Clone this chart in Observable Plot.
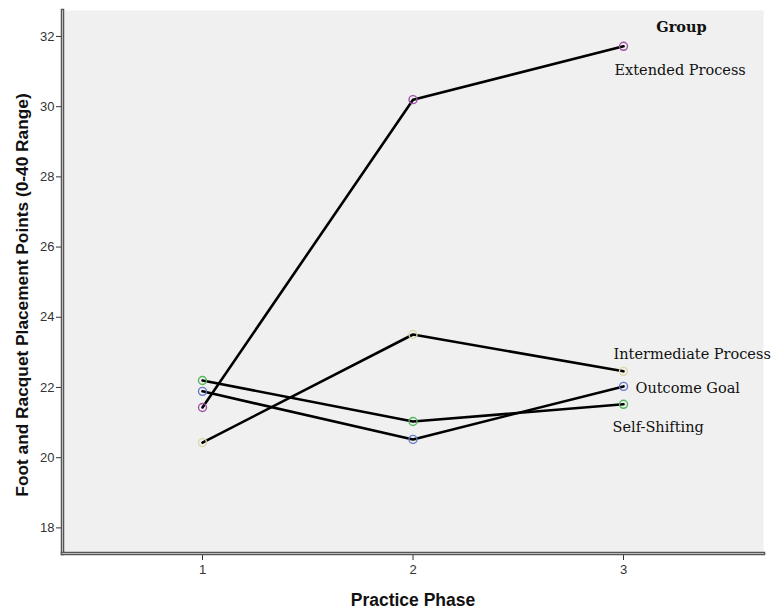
<!DOCTYPE html>
<html><head><meta charset="utf-8">
<script src="https://cdn.jsdelivr.net/npm/d3@7"></script>
<script src="https://cdn.jsdelivr.net/npm/@observablehq/plot@0.6"></script>
<style>body{margin:0;background:#fff}</style>
</head><body><div id="chart"></div>
<script>
const phases = [1, 2, 3];
const groups = ["Extended Process", "Intermediate Process", "Outcome Goal", "Self-Shifting"];
const extendedProcess = [21.43, 30.2, 31.72];
const intermediateProcess = [20.43, 23.51, 22.46];
const outcomeGoal = [21.89, 20.52, 22.03];
const selfShifting = [22.2, 21.03, 21.52];
const groupColors = ["#a052a8", "#dcd9a6", "#6479c8", "#52b85a"];
const yTicks = [18, 20, 22, 24, 26, 28, 30, 32];
const xTicks = [1, 2, 3];

const seriesValues = [extendedProcess, intermediateProcess, outcomeGoal, selfShifting];
const data = groups.flatMap((g, i) => phases.map((p, j) => ({group: g, phase: p, value: seriesValues[i][j]})));
const ends = data.filter(d => d.phase === 3);
const labelOffsets = {"Extended Process": [-9, 24], "Intermediate Process": [-10, -17], "Outcome Goal": [12, 2], "Self-Shifting": [-11, 23]};

const labelMarks = groups.map(g => Plot.text(ends.filter(d => d.group === g), {
  x: "phase", y: "value", text: "group", textAnchor: "start",
  dx: labelOffsets[g][0], dy: labelOffsets[g][1],
  fontFamily: "DejaVu Serif, serif", fontSize: 14.5, fill: "#111"}));

const chart = Plot.plot({
  width: 773, height: 611,
  marginLeft: 62, marginRight: 10, marginTop: 10, marginBottom: 58,
  style: {background: "#fff", fontFamily: "Liberation Sans, Arial, sans-serif"},
  x: {domain: [0.335, 3.665], label: null},
  y: {domain: [17.27, 32.74], label: null},
  color: {domain: groups, range: groupColors},
  marks: [
    Plot.frame({fill: "#f0f0f0", stroke: null}),
    Plot.axisY({ticks: yTicks, tickSize: 6, tickPadding: 2, fontSize: 13, color: "#333", label: null}),
    Plot.axisX({ticks: xTicks, tickFormat: "d", tickSize: 7, tickPadding: 4, fontSize: 13, color: "#333", label: null}),
    Plot.frame({anchor: "left", stroke: "#555", strokeWidth: 3.5}),
    Plot.frame({anchor: "left", stroke: "#bbb", strokeWidth: 1}),
    Plot.frame({anchor: "bottom", stroke: "#555", strokeWidth: 3.5}),
    Plot.frame({anchor: "bottom", stroke: "#bbb", strokeWidth: 1}),
    Plot.line(data, {x: "phase", y: "value", z: "group", stroke: "#000", strokeWidth: 2.6}),
    Plot.dot(data, {x: "phase", y: "value", stroke: "group", r: 4, strokeWidth: 1.4, fill: "none"}),
    ...labelMarks,
    Plot.text(["Group"], {frameAnchor: "top-right", textAnchor: "middle", dx: -82, dy: 11, fontFamily: "DejaVu Serif, serif", fontWeight: "bold", fontSize: 14.5, fill: "#111"}),
    Plot.text(["Foot and Racquet Placement Points (0-40 Range)"], {frameAnchor: "left", textAnchor: "middle", dx: -40, dy: 13, rotate: -90, fontWeight: "bold", fontSize: 17.3, fill: "#111"}),
    Plot.text(["Practice Phase"], {frameAnchor: "bottom", textAnchor: "middle", dy: 52, fontWeight: "bold", fontSize: 17.5, fill: "#111"})
  ]
});
document.getElementById("chart").appendChild(chart);
</script>
</body></html>
